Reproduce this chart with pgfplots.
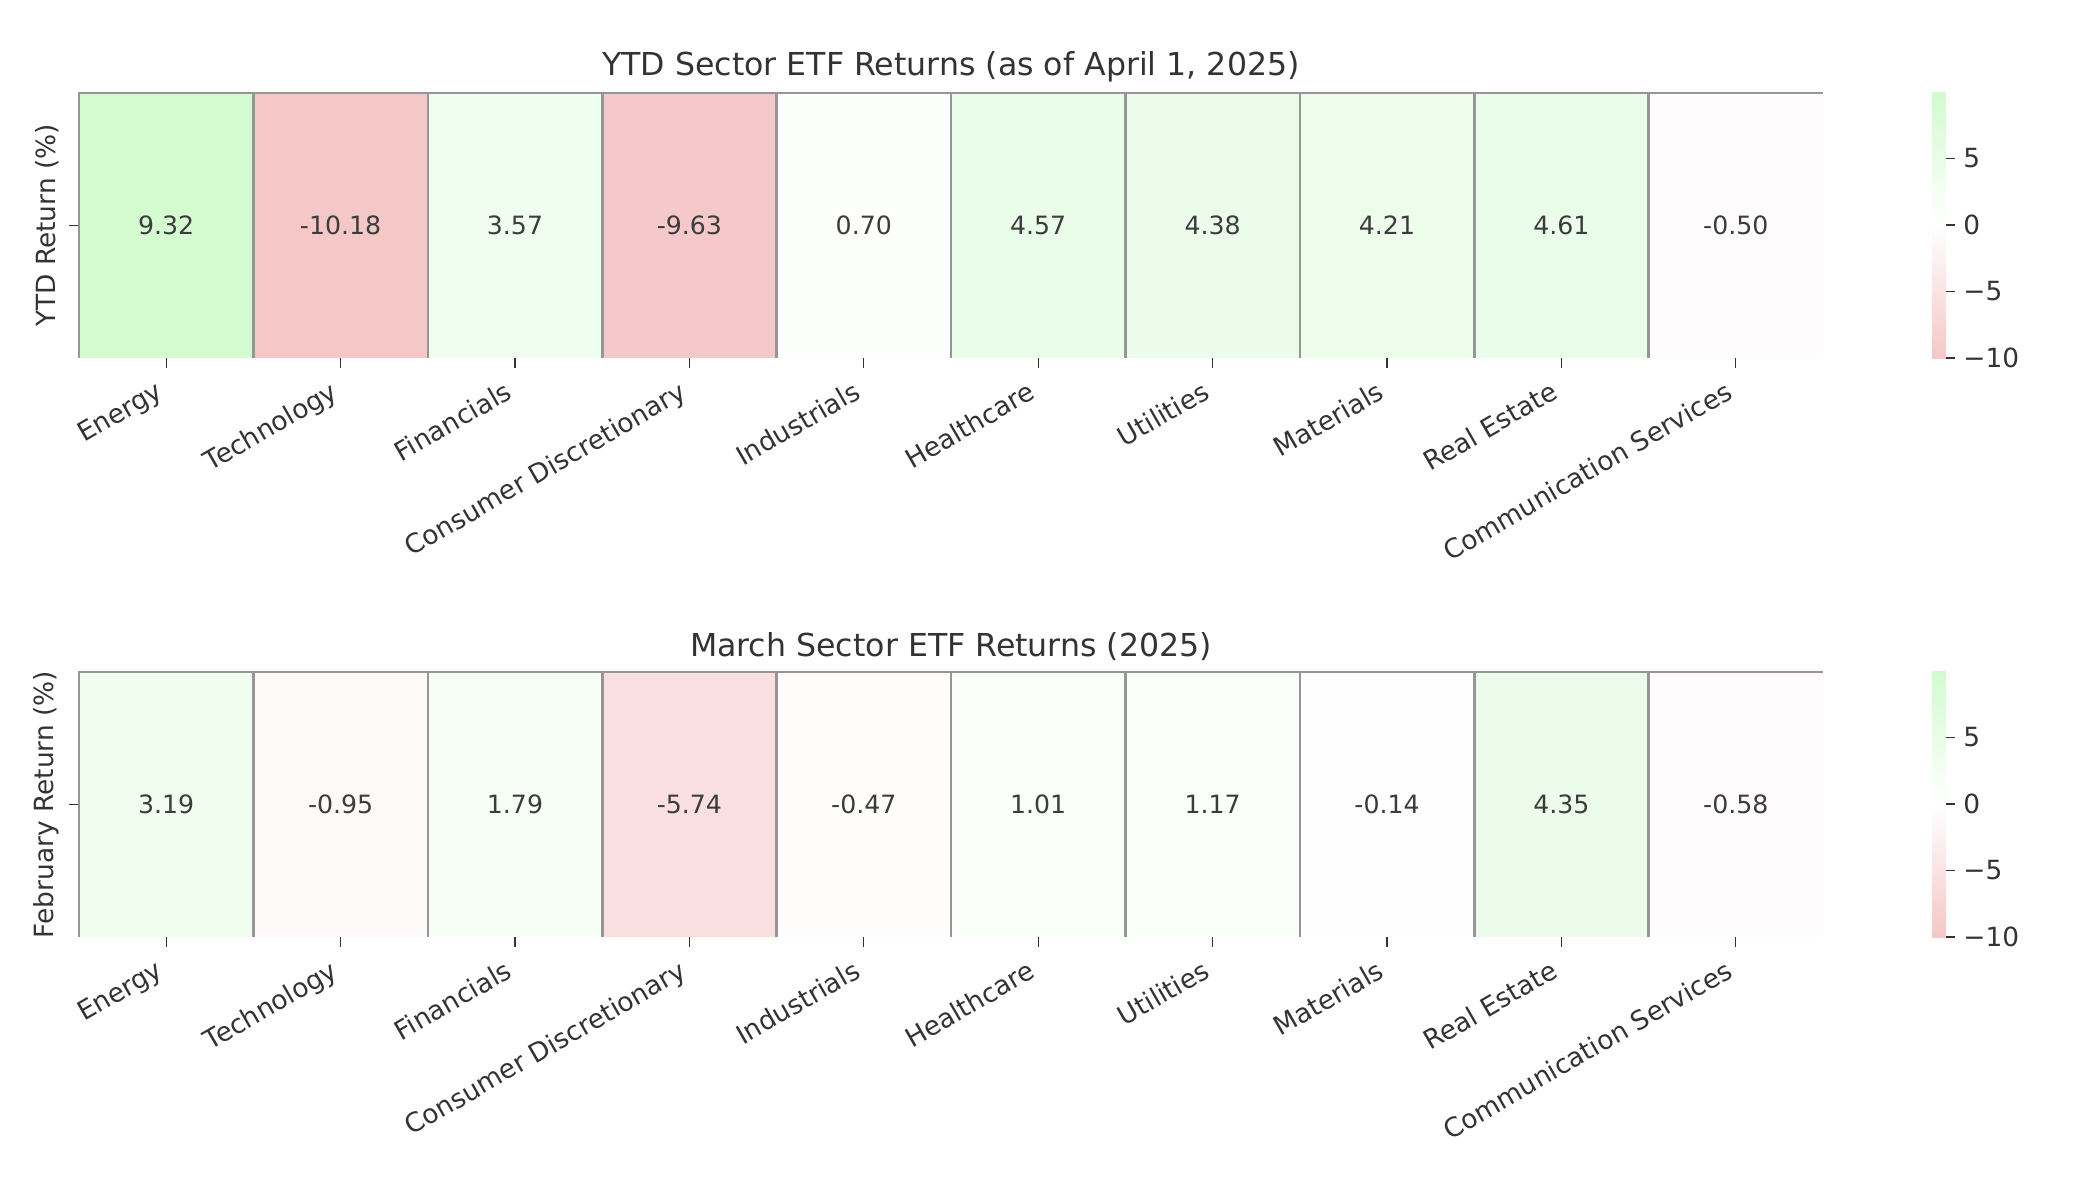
\documentclass[border=0pt]{standalone}
\usepackage{pgfplots}
\usepackage{pgfplotstable}
\pgfplotsset{compat=1.18}
\usepackage{fontspec}
\setmainfont{DejaVu Sans}
\definecolor{txt}{RGB}{51,51,51}
\definecolor{anno}{RGB}{60,60,60}
\definecolor{cellgray}{RGB}{150,150,150}
\newcommand{\tfont}{\fontsize{15.8}{19}\selectfont}
\newcommand{\sfont}{\fontsize{13.2}{15}\selectfont}
\newcommand{\afont}{\fontsize{12.6}{15}\selectfont}
% cell mark: filled rectangle, left and top edges stroked
\pgfdeclareplotmark{cell}{%
  \pgfpathrectangle{\pgfqpoint{-\pgfplotmarksize}{-\pgfplotmarksize}}{\pgfqpoint{2\pgfplotmarksize}{2\pgfplotmarksize}}%
  \pgfusepathqfill
  \pgfpathmoveto{\pgfqpoint{-\pgfplotmarksize}{-\pgfplotmarksize}}%
  \pgfpathlineto{\pgfqpoint{-\pgfplotmarksize}{\pgfplotmarksize}}%
  \pgfpathlineto{\pgfqpoint{\pgfplotmarksize}{\pgfplotmarksize}}%
  \pgfusepathqstroke
}
\pgfplotstableread{
x v
0 9.32
1 -10.18
2 3.57
3 -9.63
4 0.70
5 4.57
6 4.38
7 4.21
8 4.61
9 -0.50
}\ytd
\pgfplotstableread{
x v
0 3.19
1 -0.95
2 1.79
3 -5.74
4 -0.47
5 1.01
6 1.17
7 -0.14
8 4.35
9 -0.58
}\mar
\pgfplotsset{
  rgmap/.style={
    colormap={rg}{rgb255(0cm)=(245,199,199); rgb255(1cm)=(255,255,255); rgb255(2cm)=(210,251,206)},
    point meta min=-10, point meta max=10,
  },
  heat/.style={
    rgmap,
    scale only axis, width=872pt, height=132.5pt,
    xmin=-0.5, xmax=9.5, ymin=-0.5, ymax=0.5,
    clip=false,
    axis line style={draw=none},
    xtick={0,...,9},
    xticklabels={Energy,Technology,Financials,Consumer Discretionary,Industrials,Healthcare,Utilities,Materials,Real Estate,Communication Services},
    ytick={0}, yticklabels={},
    xtick pos=bottom, ytick pos=left,
    tick align=outside, major tick length=5pt,
    tick style={draw=txt, line width=0.6pt},
    xticklabel style={xshift=-5pt, yshift=-3pt, rotate=30, anchor=north east, font=\sfont, text=txt, inner sep=2pt},
    ylabel style={at={(axis description cs:-0.0115,0.5)}, anchor=south, inner sep=0pt, font=\sfont, text=txt},
    title style={at={(axis description cs:0.5,1)}, anchor=south, inner sep=0pt, yshift=-0.5pt, font=\tfont, text=txt},
  },
  cbar/.style={
    rgmap,
    scale only axis, width=6.5pt, height=133pt,
    xmin=0, xmax=1, ymin=-10, ymax=10,
    axis line style={draw=none},
    xtick=\empty,
    ytick={-10,-5,0,5}, yticklabels={−10,−5,0,5},
    yticklabel pos=right, ytick pos=right,
    tick align=outside, major tick length=5pt,
    tick style={draw=txt, line width=0.6pt},
    yticklabel style={font=\sfont, text=txt, inner sep=2pt, xshift=2pt},
  },
  cells/.style={
    scatter, only marks, mark=cell, mark size=43.6pt,
    mark options={yscale=1.5195, line width=1.3pt},
    scatter/use mapped color={draw=cellgray, fill=mapped color},
    point meta=explicit,
  },
  vals/.style={
    only marks, mark=none, point meta=explicit,
    nodes near coords={\pgfmathprintnumber[fixed,fixed zerofill,precision=2,assume math mode=true]{\pgfplotspointmeta}},
    nodes near coords align=center,
    every node near coord/.append style={font=\afont, text=anno, anchor=center},
  },
}
\begin{document}
\begin{tikzpicture}
\path[use as bounding box] (0,0) rectangle (1038.5pt,-595pt);
\begin{axis}[heat, at={(39.5pt,-46.5pt)}, anchor=north west,
  title={YTD Sector ETF Returns (as of April 1, 2025)},
  ylabel={YTD Return (\%)}]
\addplot[cells] table[x=x, y expr=0, meta=v] {\ytd};
\addplot[vals] table[x=x, y expr=0, meta=v] {\ytd};
\end{axis}
\begin{axis}[cbar, at={(966pt,-46pt)}, anchor=north west]
\addplot[surf, shader=interp, point meta=y, mesh/rows=2] coordinates {(0,-10) (1,-10) (0,10) (1,10)};
\end{axis}
\begin{axis}[heat, at={(39.5pt,-336pt)}, anchor=north west,
  title={March Sector ETF Returns (2025)},
  ylabel={February Return (\%)}]
\addplot[cells] table[x=x, y expr=0, meta=v] {\mar};
\addplot[vals] table[x=x, y expr=0, meta=v] {\mar};
\end{axis}
\begin{axis}[cbar, at={(966pt,-335.5pt)}, anchor=north west]
\addplot[surf, shader=interp, point meta=y, mesh/rows=2] coordinates {(0,-10) (1,-10) (0,10) (1,10)};
\end{axis}
\end{tikzpicture}
\end{document}
